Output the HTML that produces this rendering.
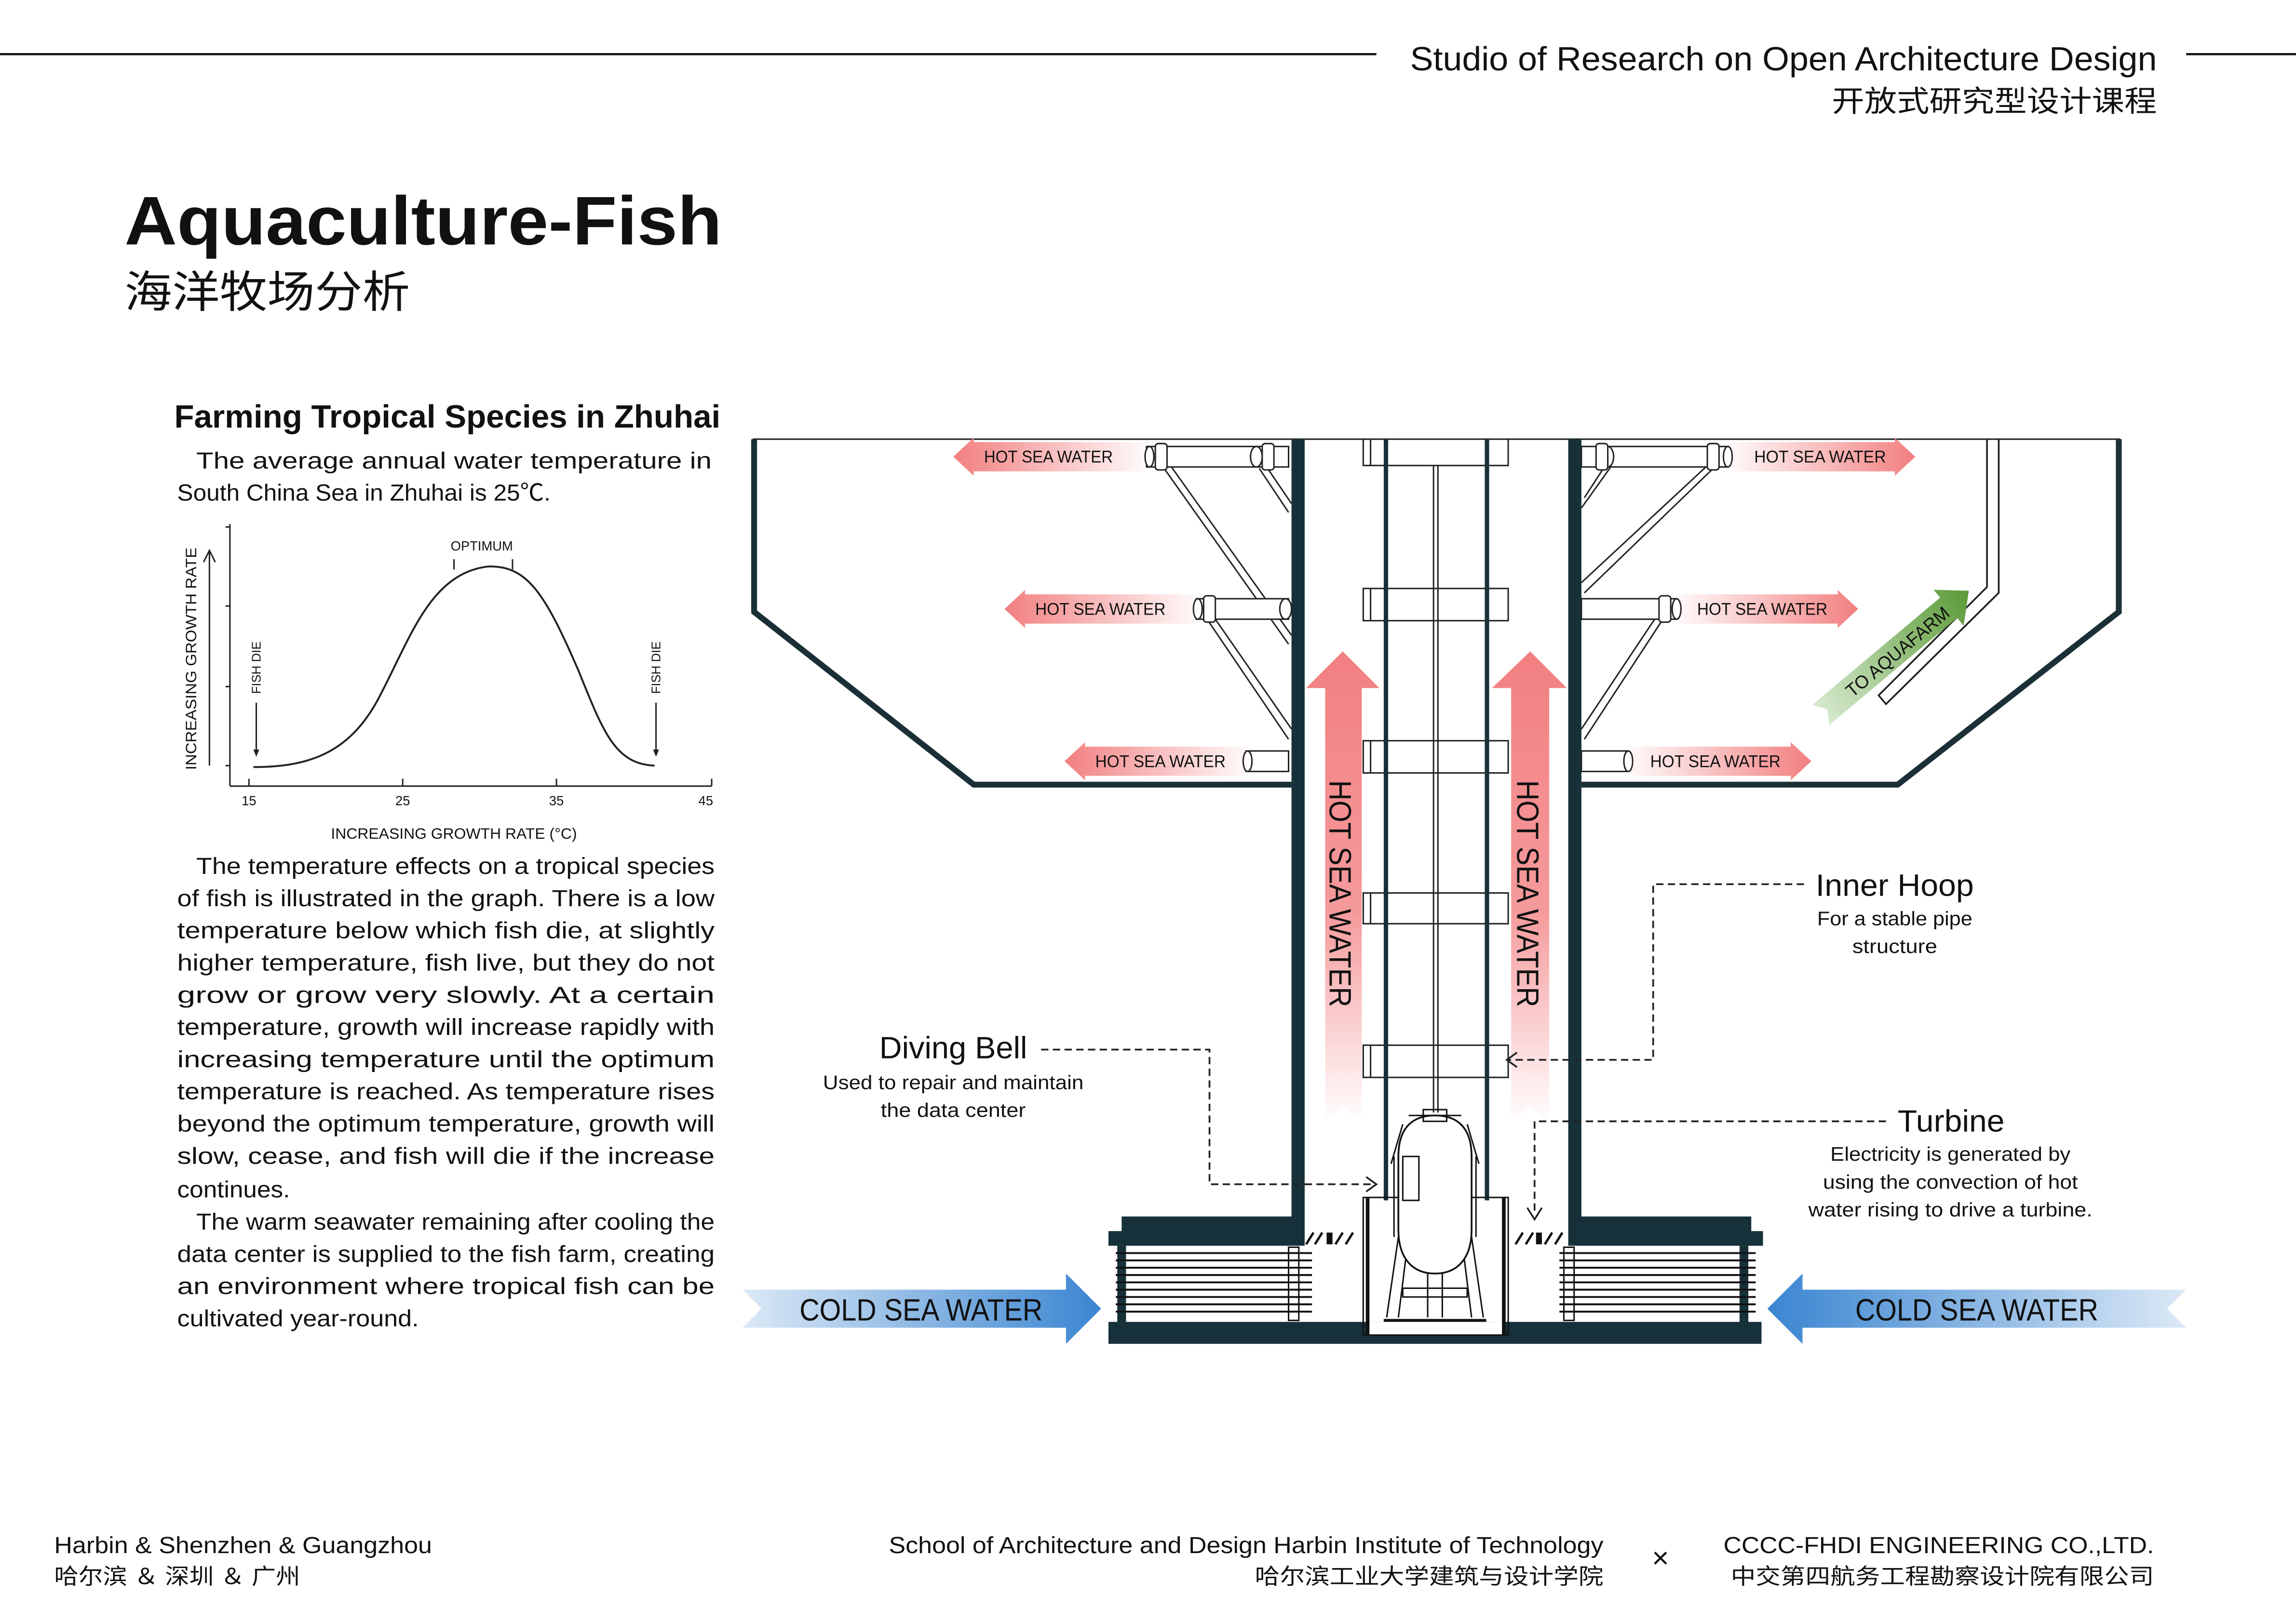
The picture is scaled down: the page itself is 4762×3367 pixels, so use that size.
<!DOCTYPE html>
<html><head><meta charset="utf-8"><style>
html,body{margin:0;padding:0;background:#fff;}
svg{display:block;}
text{font-family:"Liberation Sans","Noto Sans CJK SC",sans-serif;fill:#111;}
.cj{font-family:"Liberation Sans","Noto Sans CJK SC",sans-serif;}
</style></head><body>
<svg width="4762" height="3367" viewBox="0 0 1568 1108.7" xmlns="http://www.w3.org/2000/svg">
<defs>
<linearGradient id="hotL" x1="0" y1="0" x2="1" y2="0"><stop offset="0" stop-color="#f27f80"/><stop offset="1" stop-color="#f27f80" stop-opacity="0.05"/></linearGradient>
<linearGradient id="hotR" x1="1" y1="0" x2="0" y2="0"><stop offset="0" stop-color="#f27f80"/><stop offset="1" stop-color="#f27f80" stop-opacity="0.05"/></linearGradient>
<linearGradient id="hotV" x1="0" y1="0" x2="0" y2="1"><stop offset="0" stop-color="#f27f80"/><stop offset="0.55" stop-color="#f59a9c"/><stop offset="1" stop-color="#f59a9c" stop-opacity="0"/></linearGradient>
<linearGradient id="coldL" x1="0" y1="0" x2="1" y2="0"><stop offset="0" stop-color="#dce9f6"/><stop offset="1" stop-color="#3a85d1"/></linearGradient>
<linearGradient id="coldR" x1="1" y1="0" x2="0" y2="0"><stop offset="0" stop-color="#dce9f6"/><stop offset="1" stop-color="#3a85d1"/></linearGradient>
<linearGradient id="grn" x1="0" y1="0" x2="1" y2="0"><stop offset="0" stop-color="#d7ead0"/><stop offset="1" stop-color="#5b9a37"/></linearGradient>
</defs>

<!-- header -->
<line x1="0" y1="37" x2="940" y2="37" stroke="#111" stroke-width="1.5"/>
<line x1="1493" y1="37" x2="1568" y2="37" stroke="#111" stroke-width="1.5"/>
<text x="963" y="48" font-size="23" textLength="510" lengthAdjust="spacingAndGlyphs">Studio of Research on Open Architecture Design</text>
<text x="1473" y="76" font-size="20" text-anchor="end" textLength="222" lengthAdjust="spacingAndGlyphs">开放式研究型设计课程</text>
<text x="85" y="167" font-size="47" font-weight="bold" textLength="408" lengthAdjust="spacingAndGlyphs">Aquaculture-Fish</text>
<text x="85" y="210" font-size="30" textLength="195" lengthAdjust="spacingAndGlyphs">海洋牧场分析</text>

<!-- left text -->
<text x="119" y="292" font-size="22" font-weight="bold" textLength="373" lengthAdjust="spacingAndGlyphs">Farming Tropical Species in Zhuhai</text>
<g font-size="16">
<text x="134" y="320" textLength="352" lengthAdjust="spacingAndGlyphs">The average annual water temperature in</text>
<text x="121" y="342" textLength="255" lengthAdjust="spacingAndGlyphs">South China Sea in Zhuhai is 25℃.</text>
<text x="134" y="597" textLength="354" lengthAdjust="spacingAndGlyphs">The temperature effects on a tropical species</text>
<text x="121" y="619" textLength="367" lengthAdjust="spacingAndGlyphs">of fish is illustrated in the graph. There is a low</text>
<text x="121" y="641" textLength="367" lengthAdjust="spacingAndGlyphs">temperature below which fish die, at slightly</text>
<text x="121" y="663" textLength="367" lengthAdjust="spacingAndGlyphs">higher temperature, fish live, but they do not</text>
<text x="121" y="685" textLength="367" lengthAdjust="spacingAndGlyphs">grow or grow very slowly. At a certain</text>
<text x="121" y="707" textLength="367" lengthAdjust="spacingAndGlyphs">temperature, growth will increase rapidly with</text>
<text x="121" y="729" textLength="367" lengthAdjust="spacingAndGlyphs">increasing temperature until the optimum</text>
<text x="121" y="751" textLength="367" lengthAdjust="spacingAndGlyphs">temperature is reached. As temperature rises</text>
<text x="121" y="773" textLength="367" lengthAdjust="spacingAndGlyphs">beyond the optimum temperature, growth will</text>
<text x="121" y="795" textLength="367" lengthAdjust="spacingAndGlyphs">slow, cease, and fish will die if the increase</text>
<text x="121" y="818" textLength="77" lengthAdjust="spacingAndGlyphs">continues.</text>
<text x="134" y="840" textLength="354" lengthAdjust="spacingAndGlyphs">The warm seawater remaining after cooling the</text>
<text x="121" y="862" textLength="367" lengthAdjust="spacingAndGlyphs">data center is supplied to the fish farm, creating</text>
<text x="121" y="884" textLength="367" lengthAdjust="spacingAndGlyphs">an environment where tropical fish can be</text>
<text x="121" y="906" textLength="165" lengthAdjust="spacingAndGlyphs">cultivated year-round.</text>
</g>

<!-- graph -->
<g stroke="#222" fill="none" stroke-width="1">
<line x1="157" y1="358" x2="157" y2="537"/>
<line x1="157" y1="537" x2="486" y2="537"/>
<line x1="154" y1="360" x2="157" y2="360"/><line x1="154" y1="414" x2="157" y2="414"/><line x1="154" y1="469" x2="157" y2="469"/><line x1="154" y1="523" x2="157" y2="523"/>
<line x1="170" y1="532" x2="170" y2="537"/><line x1="275" y1="532" x2="275" y2="537"/><line x1="380" y1="532" x2="380" y2="537"/><line x1="486" y1="532" x2="486" y2="537"/>
<line x1="143" y1="523" x2="143" y2="376"/><path d="M139,384 L143,376 L147,384"/>
<line x1="310" y1="382" x2="310" y2="389"/><line x1="350" y1="382" x2="350" y2="389"/>
<line x1="175" y1="480" x2="175" y2="514"/><line x1="448" y1="480" x2="448" y2="514"/>
<path stroke-width="1.3" d="M173,524 C210,524 238,515 258,478 C280,437 293,392 333,387 C360,386 372,405 395,458 C412,500 420,522 447,523"/>
</g>
<path d="M173,512 L175,517 L177,512Z M446,512 L448,517 L450,512Z" fill="#222"/>
<g font-size="9" fill="#222">
<text x="329" y="376" text-anchor="middle" font-size="9">OPTIMUM</text>
<text x="170" y="550" text-anchor="middle">15</text><text x="275" y="550" text-anchor="middle">25</text><text x="380" y="550" text-anchor="middle">35</text><text x="482" y="550" text-anchor="middle">45</text>
<text x="310" y="573" text-anchor="middle" font-size="10.5" textLength="168" lengthAdjust="spacingAndGlyphs">INCREASING GROWTH RATE (°C)</text>
<text transform="translate(134,526) rotate(-90)" font-size="10.5" textLength="152" lengthAdjust="spacingAndGlyphs">INCREASING GROWTH RATE</text>
<text transform="translate(178,474) rotate(-90)" font-size="8.5">FISH DIE</text>
<text transform="translate(451,474) rotate(-90)" font-size="8.5">FISH DIE</text>
</g>

<!-- tank -->
<line x1="514" y1="300" x2="1448" y2="300" stroke="#222" stroke-width="1"/>
<polyline points="515,300 515,418 665,536 882,536" fill="none" stroke="#1a3036" stroke-width="4"/>
<polyline points="1447,300 1447,418 1296,536 1080,536" fill="none" stroke="#1a3036" stroke-width="4"/>
<!-- aquafarm pipe -->
<path d="M1365,300 V405 L1288,481 L1283,475 L1357,401 V300" fill="none" stroke="#222" stroke-width="1.2"/>
<g transform="translate(1294,446) rotate(-40)">
<polygon points="-66,-9 48,-9 48,-16 66,0 48,16 48,9 -66,9 -60,0" fill="url(#grn)"/>
<text x="-42" y="5" font-size="12.5" textLength="88" lengthAdjust="spacingAndGlyphs">TO AQUAFARM</text>
</g>

<!-- shaft walls -->
<rect x="882" y="300" width="9" height="542" fill="#17313a"/>
<rect x="1071" y="300" width="9" height="542" fill="#17313a"/>
<!-- inner column -->
<g stroke="#222" fill="#fff" stroke-width="1">
<rect x="931" y="300" width="99" height="18"/>
<rect x="931" y="402" width="99" height="22"/>
<rect x="931" y="506" width="99" height="22"/>
<rect x="931" y="610" width="99" height="21"/>
<rect x="931" y="714" width="99" height="22"/>
<line x1="936" y1="300" x2="936" y2="318"/><line x1="936" y1="402" x2="936" y2="424"/><line x1="936" y1="506" x2="936" y2="528"/><line x1="936" y1="610" x2="936" y2="631"/><line x1="936" y1="714" x2="936" y2="736"/>
<line x1="979" y1="318" x2="979" y2="760"/><line x1="982" y1="318" x2="982" y2="760"/>
</g>
<rect x="945" y="300" width="3" height="520" fill="#17313a"/>
<rect x="1014" y="300" width="3" height="520" fill="#17313a"/>

<!-- vertical hot arrows -->
<polygon points="917,445 942,470 930,470 930,768 917,755 905,768 905,470 892,470" fill="url(#hotV)"/>
<polygon points="1045,445 1070,470 1058,470 1058,768 1045,755 1032,768 1032,470 1019,470" fill="url(#hotV)"/>
<text transform="translate(908,533) rotate(90)" font-size="21" textLength="155" lengthAdjust="spacingAndGlyphs">HOT SEA WATER</text>
<text transform="translate(1036,533) rotate(90)" font-size="21" textLength="155" lengthAdjust="spacingAndGlyphs">HOT SEA WATER</text>

<!-- pipes and struts -->
<g stroke="#222" fill="#fff" stroke-width="1">
<path d="M795,320 L880,440 M800,319 L882,434" fill="none"/>
<path d="M860,320 L880,350 M865,319 L882,344" fill="none"/>
<path d="M825,424 L880,505 M830,423 L882,498" fill="none"/>
<rect x="783" y="305" width="97" height="14"/>
<ellipse cx="785" cy="312" rx="3" ry="7"/><rect x="789" y="303" width="8" height="18" rx="2"/>
<ellipse cx="858" cy="312" rx="4" ry="7"/><rect x="862" y="303" width="8" height="18" rx="2"/>
<rect x="817" y="409" width="63" height="14"/>
<ellipse cx="818" cy="416" rx="3" ry="7"/><rect x="822" y="407" width="8" height="18" rx="2"/>
<ellipse cx="878" cy="416" rx="4" ry="7"/>
<rect x="851" y="513" width="29" height="14"/><ellipse cx="852" cy="520" rx="3" ry="7"/>

<path d="M1170,320 L1082,405 M1165,319 L1080,398" fill="none"/>
<path d="M1095,320 L1082,340 M1100,319 L1080,347" fill="none"/>
<path d="M1135,424 L1082,505 M1130,423 L1080,498" fill="none"/>
<rect x="1080" y="305" width="100" height="14"/>
<ellipse cx="1180" cy="312" rx="3" ry="7"/><rect x="1166" y="303" width="8" height="18" rx="2"/>
<ellipse cx="1098" cy="312" rx="4" ry="7"/><rect x="1090" y="303" width="8" height="18" rx="2"/>
<rect x="1080" y="409" width="65" height="14"/>
<ellipse cx="1145" cy="416" rx="3" ry="7"/><rect x="1133" y="407" width="8" height="18" rx="2"/>
<rect x="1080" y="513" width="32" height="14"/><ellipse cx="1112" cy="520" rx="3" ry="7"/>
</g>

<!-- horizontal hot arrows -->
<g font-size="11.5">
<polygon points="651,312 665,299 665,302 781,302 781,322 665,322 665,325" fill="url(#hotL)"/>
<text x="672" y="316" textLength="88" lengthAdjust="spacingAndGlyphs">HOT SEA WATER</text>
<polygon points="686,416 700,403 700,406 816,406 816,426 700,426 700,429" fill="url(#hotL)"/>
<text x="707" y="420" textLength="89" lengthAdjust="spacingAndGlyphs">HOT SEA WATER</text>
<polygon points="727,520 741,507 741,510 850,510 850,530 741,530 741,533" fill="url(#hotL)"/>
<text x="748" y="524" textLength="89" lengthAdjust="spacingAndGlyphs">HOT SEA WATER</text>
<polygon points="1308,312 1294,299 1294,302 1182,302 1182,322 1294,322 1294,325" fill="url(#hotR)"/>
<text x="1198" y="316" textLength="90" lengthAdjust="spacingAndGlyphs">HOT SEA WATER</text>
<polygon points="1269,416 1255,403 1255,406 1147,406 1147,426 1255,426 1255,429" fill="url(#hotR)"/>
<text x="1159" y="420" textLength="89" lengthAdjust="spacingAndGlyphs">HOT SEA WATER</text>
<polygon points="1237,520 1223,507 1223,510 1114,510 1114,530 1223,530 1223,533" fill="url(#hotR)"/>
<text x="1127" y="524" textLength="89" lengthAdjust="spacingAndGlyphs">HOT SEA WATER</text>
</g>

<!-- base -->
<g fill="#17313a">
<rect x="766" y="831" width="117" height="11"/>
<rect x="1079" y="831" width="117" height="11"/>
<rect x="757" y="841" width="134" height="10"/>
<rect x="1071" y="841" width="133" height="10"/>
<rect x="763" y="851" width="6" height="53"/>
<rect x="1188" y="851" width="6" height="53"/>
<rect x="757" y="903" width="446" height="15"/>
</g>
<g stroke="#111" stroke-width="1.6">
<line x1="892" y1="850" x2="897" y2="842"/><line x1="898" y1="850" x2="903" y2="842"/><line x1="912" y1="850" x2="917" y2="842"/><line x1="919" y1="850" x2="924" y2="842"/>
<line x1="1035" y1="850" x2="1040" y2="842"/><line x1="1042" y1="850" x2="1047" y2="842"/><line x1="1055" y1="850" x2="1060" y2="842"/><line x1="1062" y1="850" x2="1067" y2="842"/>
</g>
<rect x="906" y="842" width="4" height="8" fill="#111"/><rect x="1049" y="842" width="4" height="8" fill="#111"/>
<g stroke="#111" stroke-width="1.3">
<line x1="762" y1="856" x2="896" y2="856"/><line x1="762" y1="861" x2="896" y2="861"/><line x1="762" y1="866" x2="896" y2="866"/><line x1="762" y1="871" x2="896" y2="871"/><line x1="762" y1="876" x2="896" y2="876"/><line x1="762" y1="881" x2="896" y2="881"/><line x1="762" y1="886" x2="896" y2="886"/><line x1="762" y1="891" x2="896" y2="891"/><line x1="762" y1="896" x2="896" y2="896"/>
<line x1="1065" y1="856" x2="1199" y2="856"/><line x1="1065" y1="861" x2="1199" y2="861"/><line x1="1065" y1="866" x2="1199" y2="866"/><line x1="1065" y1="871" x2="1199" y2="871"/><line x1="1065" y1="876" x2="1199" y2="876"/><line x1="1065" y1="881" x2="1199" y2="881"/><line x1="1065" y1="886" x2="1199" y2="886"/><line x1="1065" y1="891" x2="1199" y2="891"/><line x1="1065" y1="896" x2="1199" y2="896"/>
</g>
<g stroke="#111" fill="none" stroke-width="1">
<rect x="880" y="852" width="7" height="50"/><rect x="1068" y="852" width="7" height="50"/>
</g>
<!-- turbine housing -->
<rect x="935" y="903" width="91" height="9" fill="#fff"/>
<g stroke="#111" fill="none" stroke-width="1">
<rect x="931" y="818" width="99" height="94"/>
<line x1="934" y1="818" x2="934" y2="912" stroke-width="2.5"/><line x1="1027" y1="818" x2="1027" y2="912" stroke-width="2.5"/>
<path d="M955,840 V790 C955,770 965,762 980,762 C995,762 1005,770 1005,790 V840 C1005,860 995,870 980,870 C965,870 955,860 955,840Z" fill="#fff" stroke-width="1.2"/>
<path d="M952,790 V845 M1008,790 V845" />
<rect x="958" y="790" width="11" height="30"/>
<path d="M958,768 L950,795 M1002,768 L1010,795 M962,762 H998"/>
<rect x="972" y="758" width="16" height="8"/>
<path d="M955,845 L947,900 M960,860 L955,900 M1005,845 L1013,900 M1000,860 L1005,900 M975,870 V900 M985,870 V900"/>
<rect x="958" y="880" width="44" height="6"/>
<line x1="945" y1="902" x2="1015" y2="902" stroke-width="2"/>
</g>

<!-- cold arrows -->
<polygon points="507,881 728,881 728,870 752,894 728,918 728,907 507,907 520,894" fill="url(#coldL)"/>
<text x="629" y="902" font-size="21" text-anchor="middle" textLength="166" lengthAdjust="spacingAndGlyphs">COLD SEA WATER</text>
<polygon points="1493,881 1231,881 1231,870 1207,894 1231,918 1231,907 1493,907 1480,894" fill="url(#coldR)"/>
<text x="1350" y="902" font-size="21" text-anchor="middle" textLength="166" lengthAdjust="spacingAndGlyphs">COLD SEA WATER</text>

<!-- dashed leaders -->
<g stroke="#222" fill="none" stroke-width="1.2" stroke-dasharray="5,3">
<path d="M1232,604 H1129 V724 H1030"/>
<path d="M711,717 H826 V809 H938"/>
<path d="M1288,766 H1048 V830"/>
</g>
<g stroke="#222" fill="none" stroke-width="1.2">
<path d="M1036,719 L1029,724 L1036,729"/>
<path d="M933,804 L940,809 L933,814"/>
<path d="M1043,825 L1048,833 L1053,825"/>
</g>
<text x="1240" y="612" font-size="21" textLength="108" lengthAdjust="spacingAndGlyphs">Inner Hoop</text>
<text x="1294" y="632" font-size="13.5" text-anchor="middle" textLength="106" lengthAdjust="spacingAndGlyphs">For a stable pipe</text>
<text x="1294" y="651" font-size="13.5" text-anchor="middle" textLength="58" lengthAdjust="spacingAndGlyphs">structure</text>
<text x="651" y="723" font-size="21" text-anchor="middle" textLength="101" lengthAdjust="spacingAndGlyphs">Diving Bell</text>
<text x="651" y="744" font-size="13.5" text-anchor="middle" textLength="178" lengthAdjust="spacingAndGlyphs">Used to repair and maintain</text>
<text x="651" y="763" font-size="13.5" text-anchor="middle" textLength="99" lengthAdjust="spacingAndGlyphs">the data center</text>
<text x="1296" y="773" font-size="21" textLength="73" lengthAdjust="spacingAndGlyphs">Turbine</text>
<text x="1332" y="793" font-size="13.5" text-anchor="middle" textLength="164" lengthAdjust="spacingAndGlyphs">Electricity is generated by</text>
<text x="1332" y="812" font-size="13.5" text-anchor="middle" textLength="174" lengthAdjust="spacingAndGlyphs">using the convection of hot</text>
<text x="1332" y="831" font-size="13.5" text-anchor="middle" textLength="194" lengthAdjust="spacingAndGlyphs">water rising to drive a turbine.</text>

<!-- footer -->
<text x="37" y="1061" font-size="16" textLength="258" lengthAdjust="spacingAndGlyphs">Harbin &amp; Shenzhen &amp; Guangzhou</text>
<text x="37" y="1082" font-size="15" textLength="168" lengthAdjust="spacingAndGlyphs">哈尔滨 ＆ 深圳 ＆ 广州</text>
<text x="1095" y="1061" font-size="16" text-anchor="end" textLength="488" lengthAdjust="spacingAndGlyphs">School of Architecture and Design Harbin Institute of Technology</text>
<text x="1095" y="1082" font-size="15" text-anchor="end" textLength="238" lengthAdjust="spacingAndGlyphs">哈尔滨工业大学建筑与设计学院</text>
<text x="1134" y="1071" font-size="20" text-anchor="middle">×</text>
<text x="1471" y="1061" font-size="16" text-anchor="end" textLength="294" lengthAdjust="spacingAndGlyphs">CCCC-FHDI ENGINEERING CO.,LTD.</text>
<text x="1471" y="1082" font-size="15" text-anchor="end" textLength="289" lengthAdjust="spacingAndGlyphs">中交第四航务工程勘察设计院有限公司</text>
</svg>
</body></html>
